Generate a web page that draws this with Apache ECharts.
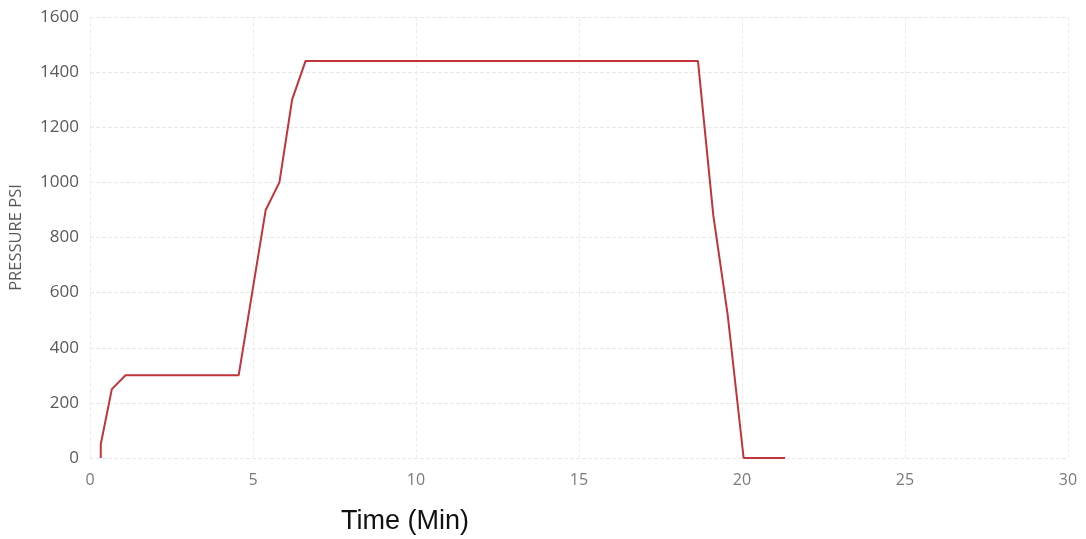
<!DOCTYPE html>
<html>
<head>
<meta charset="utf-8">
<script src="https://cdn.jsdelivr.net/npm/echarts@6/dist/echarts.min.js"></script>
<style>
html,body{margin:0;padding:0;background:#fff;}
#chart{width:1086px;height:539px;}
</style>
</head>
<body>
<div id="chart"></div>
<script>
// Time in minutes and pressure in PSI
const timeMin = [0.33, 0.33, 0.67, 1.09, 4.56, 5.39, 5.81, 6.20, 6.61, 18.65, 19.12, 19.56, 20.05, 21.32];
const pressurePsi = [0, 50, 250, 300, 300, 900, 1000, 1300, 1440, 1440, 880, 520, 0, 0];
const xTicks = [0, 5, 10, 15, 20, 25, 30];
const yTicks = [0, 200, 400, 600, 800, 1000, 1200, 1400, 1600];

const points = timeMin.map((t, i) => [t, pressurePsi[i]]);

const chart = echarts.init(document.getElementById('chart'));
chart.setOption({
  backgroundColor: '#ffffff',
  animation: false,
  title: {
    text: 'Time (Min)',
    left: 336,
    top: 503,
    textStyle: { fontFamily: 'Liberation Sans, Arial, sans-serif', fontSize: 27, fontWeight: 'normal', color: '#111' }
  },
  grid: { left: 89, right: 18, top: 17, bottom: 81 },
  xAxis: {
    type: 'value',
    min: xTicks[0],
    max: xTicks[xTicks.length - 1],
    interval: 5,
    axisLine: { show: false },
    axisTick: { show: false },
    axisLabel: { color: '#7a7a7a', fontSize: 16, fontFamily: 'Open Sans, sans-serif', margin: 14 },
    splitLine: { show: true, lineStyle: { color: '#ededed', type: 'dashed', width: 1 } }
  },
  yAxis: {
    type: 'value',
    min: yTicks[0],
    max: yTicks[yTicks.length - 1],
    interval: 200,
    name: 'PRESSURE PSI',
    nameLocation: 'middle',
    nameGap: 65,
    nameRotate: 90,
    nameTextStyle: { color: '#595959', fontSize: 16.5, fontFamily: 'Open Sans, sans-serif' },
    axisLine: { show: false },
    axisTick: { show: false },
    axisLabel: {
      color: '#595959', fontSize: 17, fontFamily: 'Open Sans, sans-serif', margin: 11,
      formatter: v => String(v)
    },
    splitLine: { show: true, lineStyle: { color: '#e8e8e8', type: 'dashed', width: 1 } }
  },
  series: [{
    type: 'line',
    data: points,
    showSymbol: false,
    symbol: 'none',
    lineStyle: { color: '#c0343a', width: 2 },
    itemStyle: { color: '#c0343a' }
  }]
});
</script>
</body>
</html>
